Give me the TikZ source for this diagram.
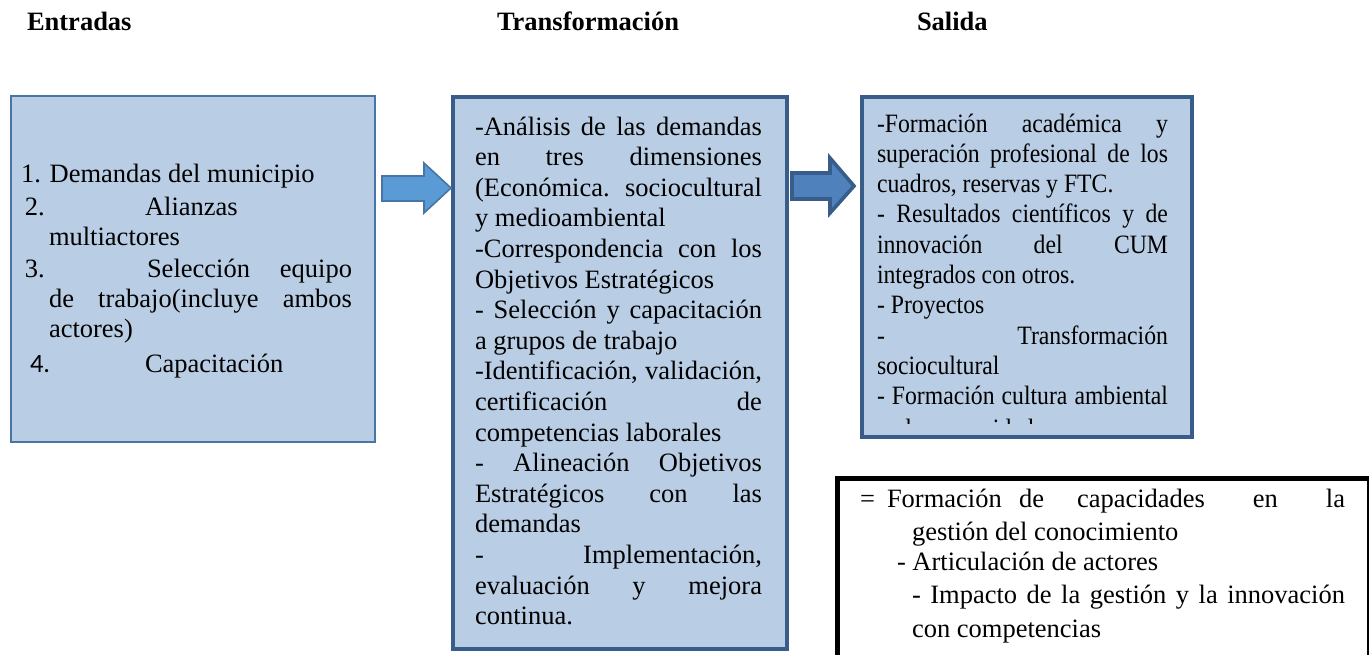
\documentclass[tikz,border=0pt]{standalone}
\usepackage{fontspec}
\setmainfont{Liberation Serif}
\newfontfamily\condfont[FakeStretch=0.895]{Liberation Serif}
\newfontfamily\numfont{Carlito}
\definecolor{boxfill}{RGB}{185,205,228}
\definecolor{thinline}{RGB}{72,116,166}
\definecolor{darkline}{RGB}{56,93,138}
\definecolor{arrowA}{RGB}{91,155,213}
\definecolor{arrowB}{RGB}{79,129,189}
\newcommand\bodysize{\fontsize{13.25pt}{15.3pt}\selectfont}
\newcommand\jl[2]{\makebox[\dimexpr #1pt/2\relax][s]{#2}}
\begin{document}
\begin{tikzpicture}[x=0.5pt,y=-0.5pt,
  txt/.style={anchor=base west, inner sep=0pt, outer sep=0pt, font=\bodysize},
  ctxt/.style={txt, font=\bodysize\condfont},
  head/.style={txt, font=\bodysize\bfseries},
  thinbox/.style={draw=thinline, line width=1pt, fill=boxfill, rectangle, inner sep=0pt},
  thickbox/.style={draw=darkline, line width=2pt, fill=boxfill, rectangle, inner sep=0pt},
  blackbox/.style={draw=black, line width=2.6pt, fill=white, rectangle, inner sep=0pt},
  arrowone/.style={draw=thinline, line width=0.8pt, fill=arrowA, line join=miter},
  arrowtwo/.style={draw=darkline, line width=1.8pt, fill=arrowB, line join=miter}]
\useasboundingbox (0,0) rectangle (1369,654);
\clip (0,0) rectangle (1369,654);

% headers
\node[head] (h1) at (27,30) {Entradas};
\node[head] (h2) at (497,30) {Transformación};
\node[head] (h3) at (917,30) {Salida};

% boxes
\node[thinbox, anchor=north west, minimum width=182pt, minimum height=173pt] (entr) at (10,95) {};
\node[thickbox, anchor=north west, minimum width=167pt, minimum height=276pt] (trans) at (451,95) {};
\node[thickbox, anchor=north west, minimum width=165pt, minimum height=170pt] (sal) at (860,95) {};
\node[blackbox, anchor=north west, minimum width=266pt, minimum height=130pt] (res) at (834.5,476) {};

% arrows
\draw[arrowone] (382,176) -- (424,176) -- (424,163) -- (trans.west |- 0,188) -- (424,213) -- (424,201) -- (382,201) -- cycle;
\draw[arrowtwo] (792,173) -- (830,173) -- (830,158) -- (854,186) -- (830,213) -- (830,199) -- (792,199) -- cycle;

% Entradas text
\node[txt] (e1) at (21,182) {1. Demandas del municipio};
\node[txt] (e2a) at (25,215) {2.};
\node[txt] (e2b) at (145,215) {Alianzas};
\node[txt] (e3) at (49,245) {multiactores};
\node[txt] (e4a) at (25,277) {3.};
\node[txt] (e4b) at (147,277) {\jl{205}{Selección equipo}};
\node[txt] (e5) at (49,307) {\jl{303}{de trabajo(incluye ambos}};
\node[txt] (e6) at (49,337) {actores)};
\node[txt, font=\bodysize\numfont] (e7a) at (30,372) {4.};
\node[txt] (e7b) at (145,372) {Capacitación};

% Transformacion text
\node[txt] (t1) at (475,135) {\jl{287}{-Análisis de las demandas}};
\node[txt] (t2) at (475,165.6) {\jl{287}{en tres dimensiones}};
\node[txt] (t3) at (475,196.2) {\jl{287}{(Económica. sociocultural}};
\node[txt] (t4) at (475,226.8) {y medioambiental};
\node[txt] (t5) at (475,257.4) {\jl{287}{-Correspondencia con los}};
\node[txt] (t6) at (475,288) {Objetivos Estratégicos};
\node[txt] (t7) at (475,318.6) {\jl{287}{- Selección y capacitación}};
\node[txt] (t8) at (475,349.2) {a grupos de trabajo};
\node[txt] (t9) at (475,379.8) {\jl{287}{-Identificación, validación,}};
\node[txt] (t10) at (475,410.4) {\jl{287}{certificación de}};
\node[txt] (t11) at (475,441) {competencias laborales};
\node[txt] (t12) at (475,471.6) {\jl{287}{- Alineación Objetivos}};
\node[txt] (t13) at (475,502.2) {\jl{287}{Estratégicos con las}};
\node[txt] (t14) at (475,532.8) {demandas};
\node[txt] (t15) at (475,563.4) {\jl{287}{- Implementación,}};
\node[txt] (t16) at (475,594) {\jl{287}{evaluación y mejora}};
\node[txt] (t17) at (475,624.6) {continua.};

% Salida text
\node[ctxt] (s1) at (877,132) {\jl{291}{-Formación académica y}};
\node[ctxt] (s2) at (877,162.3) {\jl{291}{superación profesional de los}};
\node[ctxt] (s3) at (877,192.6) {cuadros, reservas y FTC.};
\node[ctxt] (s4) at (877,222.9) {\jl{291}{- Resultados científicos y de}};
\node[ctxt] (s5) at (877,253.2) {\jl{291}{innovación del CUM}};
\node[ctxt] (s6) at (877,283.5) {integrados con otros.};
\node[ctxt] (s7) at (877,313.8) {- Proyectos};
\node[ctxt] (s8) at (877,344.1) {\jl{291}{- Transformación}};
\node[ctxt] (s9) at (877,374.4) {sociocultural};
\node[ctxt] (s10) at (877,404.7) {\jl{291}{- Formación cultura ambiental}};
\begin{scope}
\clip (866,412) rectangle (1184,423);
\node[ctxt] (s11) at (877,437) {en la comunidad};
\end{scope}

% Resultados box text
\node[txt] (r1a) at (860,507) {=};
\node[txt] (r1b) at (887,507) {Formación};
\node[txt] (r1c) at (1019,507) {de};
\node[txt] (r1d) at (1077,507) {\jl{268}{capacidades en la}};
\node[txt] (r2) at (912,540) {gestión del conocimiento};
\node[txt] (r3) at (897,570) {- Articulación de actores};
\node[txt] (r4) at (912,603) {\jl{433}{- Impacto de la gestión y la innovación}};
\node[txt] (r5) at (912,637) {con competencias};
\end{tikzpicture}
\end{document}
